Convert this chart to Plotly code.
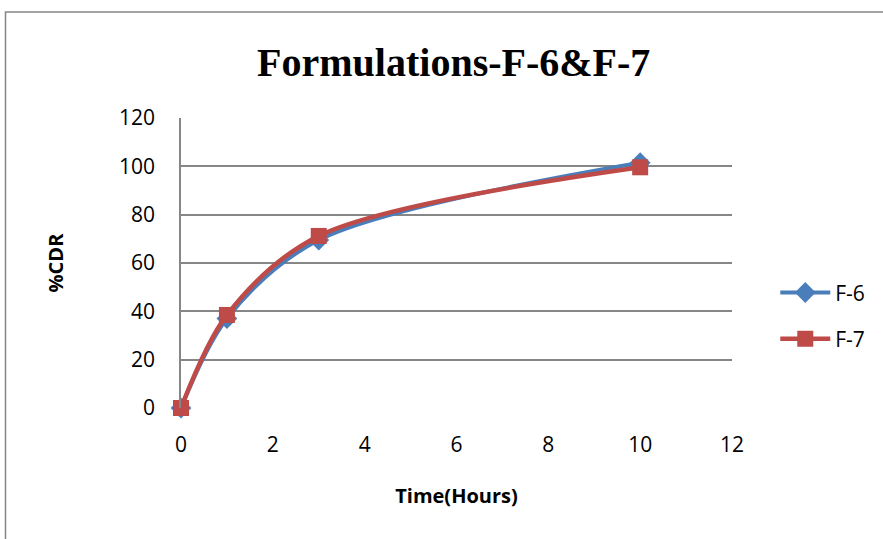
import plotly.graph_objects as go

# Dissolution profiles of formulations F-6 and F-7
time_hours = [0, 1, 3, 10]
f6_cdr = [0, 37, 69.5, 101.5]
f7_cdr = [0, 38.5, 71.2, 99.6]

fig = go.Figure()
fig.add_trace(go.Scatter(
    x=time_hours, y=f6_cdr, name="F-6", mode="lines+markers", cliponaxis=False,
    legendgroup="f6",
    line=dict(color="#4a7ebb", width=4, shape="spline", smoothing=0.9),
    marker=dict(symbol="diamond", size=16, color="#4a7ebb"),
))
fig.add_trace(go.Scatter(
    x=time_hours, y=f7_cdr, name="F-7", mode="lines+markers", cliponaxis=False,
    legendgroup="f7",
    line=dict(color="#be4b48", width=4.5, shape="spline", smoothing=0.9),
    marker=dict(symbol="square", size=16, color="#be4b48"),
))

tick_font = dict(family="Open Sans, Liberation Sans, sans-serif", size=21, color="black")
label_font = dict(family="Open Sans, sans-serif", size=20, color="black")

fig.update_layout(
    width=883, height=539,
    margin=dict(l=181, r=151, t=118, b=131),
    paper_bgcolor="white", plot_bgcolor="white",
    title=dict(text="<b>Formulations-F-6&F-7</b>", x=0.495, xanchor="center",
               xref="paper", y=0.885, yanchor="middle",
               font=dict(family="Liberation Serif, Times New Roman, serif", size=40, color="black")),
    xaxis=dict(range=[0, 12], tickvals=[0, 2, 4, 6, 8, 10, 12], showgrid=False,
               zeroline=False, showline=False, ticks="", tickfont=tick_font,
               ticklabelstandoff=22, automargin=False,
               title=dict(text="<b>Time(Hours)</b>", standoff=31, font=label_font)),
    yaxis=dict(range=[0, 120], tickvals=[0, 20, 40, 60, 80, 100, 120], showgrid=True,
               gridcolor="#868686", gridwidth=1.5, zeroline=False, showline=True,
               linecolor="#868686", linewidth=1.5, ticks="", tickfont=tick_font,
               ticklabelstandoff=20, automargin=False,
               title=dict(text="<b>%CDR</b>", standoff=50, font=label_font)),
    legend=dict(xref="container", yref="container", x=0.878, y=0.414,
                xanchor="left", yanchor="middle",
                font=dict(family="Open Sans, sans-serif", size=21, color="black"),
                tracegroupgap=16, itemwidth=50, bgcolor="rgba(0,0,0,0)"),
    showlegend=True,
)

# Outer chart frame
fig.add_shape(type="rect", xref="paper", yref="paper",
              x0=-0.3185, x1=2, y0=-1, y1=1.3655,
              line=dict(color="#868686", width=1.5), layer="below")

fig.write_html("out.html")
